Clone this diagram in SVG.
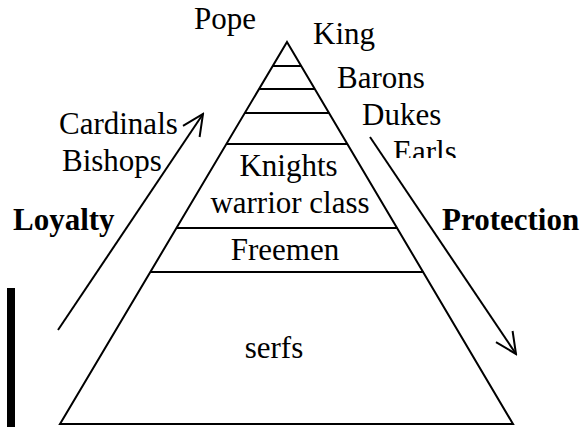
<svg xmlns="http://www.w3.org/2000/svg" width="587" height="427" viewBox="0 0 587 427">
  <style>
    text { font-family: "Liberation Serif", "Times New Roman", serif; font-size: 31px; fill: #000; }
    .bold { font-weight: bold; }
    .mid { text-anchor: middle; }
    .edge { stroke: #000; stroke-width: 2; fill: none; }
    .arrow { stroke: #000; stroke-width: 2; fill: none; marker-end: url(#openHead); }
  </style>
  <defs>
    <marker id="openHead" markerUnits="userSpaceOnUse" viewBox="-24 -12 26 24" refX="0" refY="0" markerWidth="26" markerHeight="24" orient="auto">
      <path d="M -21 -10 L 0 0 L -21 10" fill="none" stroke="#000" stroke-width="2"/>
    </marker>
    <clipPath id="earlsClip">
      <rect x="380" y="130" width="120" height="28"/>
    </clipPath>
  </defs>

  <!-- pyramid outline and tier dividers -->
  <g id="pyramid">
    <polygon class="edge" points="287,42 513,424 60,424"/>
    <line class="edge" x1="272.8" y1="66" x2="301.2" y2="66"/>
    <line class="edge" x1="259.1" y1="89" x2="314.9" y2="89"/>
    <line class="edge" x1="244.9" y1="113" x2="329.1" y2="113"/>
    <line class="edge" x1="226.5" y1="144" x2="347.5" y2="144"/>
    <line class="edge" x1="176.7" y1="228" x2="397.3" y2="228"/>
    <line class="edge" x1="150.6" y1="272" x2="423.4" y2="272"/>
  </g>

  <!-- tier labels inside the pyramid -->
  <g id="knights">
    <text class="mid" x="288.5" y="176">Knights</text>
    <text class="mid" x="290" y="213">warrior class</text>
  </g>
  <g id="freemen">
    <text class="mid" x="285" y="260">Freemen</text>
  </g>
  <g id="serfs">
    <text class="mid" x="274" y="358">serfs</text>
  </g>

  <!-- titles around the apex -->
  <g id="pope"><text x="194" y="29">Pope</text></g>
  <g id="king"><text x="313" y="44">King</text></g>
  <g id="barons"><text x="337" y="88">Barons</text></g>
  <g id="dukes"><text x="362" y="125">Dukes</text></g>
  <g id="earls"><text x="393" y="162" clip-path="url(#earlsClip)">Earls</text></g>
  <g id="cardinals"><text x="59" y="134">Cardinals</text></g>
  <g id="bishops"><text x="62" y="171">Bishops</text></g>
  <g id="loyalty"><text class="bold" x="13" y="230">Loyalty</text></g>
  <g id="protection"><text class="bold" x="442" y="230">Protection</text></g>

  <!-- vertical bar at the left edge -->
  <g id="bar">
    <rect x="7" y="288" width="8" height="139" fill="#000"/>
  </g>

  <!-- loyalty flows up, protection flows down -->
  <g id="connectors">
    <line class="arrow" x1="58" y1="330" x2="203" y2="114"/>
    <line class="arrow" x1="370" y1="137" x2="516" y2="354"/>
  </g>
</svg>
